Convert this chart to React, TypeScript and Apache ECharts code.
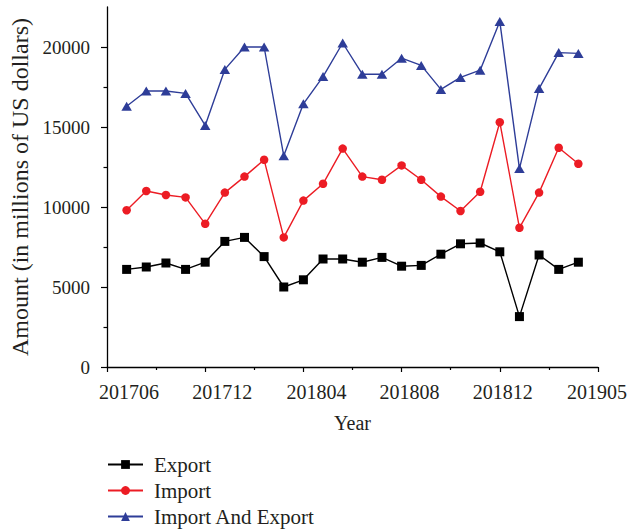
import React, { useEffect, useRef } from 'react';
import * as echarts from 'echarts';

const months = [
  '201706', '201707', '201708', '201709', '201710', '201711', '201712', '201801',
  '201802', '201803', '201804', '201805', '201806', '201807', '201808', '201809',
  '201810', '201811', '201812', '201901', '201902', '201903', '201904', '201905',
];
const exportVals = [6100, 6250, 6500, 6100, 6550, 7850, 8100, 6900, 5000, 5450, 6750, 6750, 6550, 6850, 6300, 6350, 7050, 7700, 7750, 7200, 3150, 7000, 6100, 6550];
const importVals = [9800, 11000, 10750, 10600, 8950, 10900, 11900, 12950, 8100, 10400, 11450, 13650, 11900, 11700, 12600, 11700, 10650, 9750, 10950, 15300, 8700, 10900, 13700, 12700];
const totalVals = [16300, 17250, 17250, 17100, 15100, 18600, 20000, 20000, 13200, 16450, 18150, 20250, 18300, 18300, 19300, 18850, 17350, 18100, 18550, 21600, 12400, 17400, 19650, 19600];
const xTickLabels = ['201706', '201712', '201804', '201808', '201812', '201905'];
const yMajorTicks = [0, 5000, 10000, 15000, 20000];
const yMinorTicks = [2500, 7500, 12500, 17500];
const seriesNames = ['Export', 'Import', 'Import And Export'];

export default function App() {
  const ref = useRef<HTMLDivElement>(null);
  useEffect(() => {
    const chart = echarts.init(ref.current!, null, { renderer: 'svg' });
    const font = '"Liberation Serif", "Times New Roman", serif';
    const txt = '#231f20';
    const offsets = [22, 17, 13, 8, 3, -1];
    const rich: any = {};
    offsets.forEach((d, i) => {
      rich['l' + i] = {
        fontFamily: font,
        fontSize: 20,
        color: txt,
        padding: d >= 0 ? [0, 0, 0, 2 * d] : [0, -2 * d, 0, 0],
      };
    });
    const toPts = (vals: number[]) => vals.map((v, i) => [i + 1, v]);
    const axisLine = { show: true, lineStyle: { color: '#000', width: 1.3 } };
    chart.setOption({
      animation: false,
      backgroundColor: '#fff',
      textStyle: { fontFamily: font, color: txt },
      grid: {
        left: 107,
        right: 31,
        top: 7,
        bottom: 162,
        containLabel: false,
        outerBoundsMode: 'none',
      },
      legend: {
        orient: 'vertical',
        left: 107,
        top: 454,
        height: 75,
        padding: 0,
        itemWidth: 35,
        itemHeight: 11,
        itemGap: 5,
        data: seriesNames,
        textStyle: { fontFamily: font, fontSize: 21, color: txt, padding: [0, 0, 0, 6] },
      },
      xAxis: {
        type: 'value',
        min: 0,
        max: 25,
        interval: 5,
        name: 'Year',
        nameLocation: 'middle',
        nameGap: 46,
        nameTextStyle: { fontFamily: font, fontSize: 20, color: txt },
        axisLine,
        axisTick: { show: true, inside: false, length: 5, lineStyle: { color: '#000', width: 1.2 } },
        minorTick: { show: true, splitNumber: 2, length: 3, lineStyle: { color: '#000', width: 1.2 } },
        splitLine: { show: false },
        minorSplitLine: { show: false },
        axisLabel: {
          margin: 15,
          showMinLabel: true,
          showMaxLabel: true,
          fontFamily: font,
          fontSize: 20,
          color: txt,
          formatter: (v: number) => {
            const i = Math.round(v / 5);
            return `{l${i}|${xTickLabels[i]}}`;
          },
          rich,
        },
      },
      yAxis: [
        {
          type: 'value',
          min: 0,
          max: 22500,
          interval: 5000,
          name: 'Amount (in millions of US dollars)',
          nameLocation: 'middle',
          nameGap: 63,
          nameTextStyle: { fontFamily: font, fontSize: 24, color: txt, padding: [0, 0, 6, 0] },
          axisLine,
          axisTick: { show: true, inside: false, length: 6, customValues: yMajorTicks, lineStyle: { color: '#000', width: 1.2 } },
          splitLine: { show: false },
          axisLabel: {
            margin: 17,
            customValues: yMajorTicks,
            fontFamily: font,
            fontSize: 19,
            color: txt,
            formatter: (v: number) => String(v),
          },
        },
        {
          type: 'value',
          min: 0,
          max: 22500,
          position: 'left',
          axisLine: { show: false },
          axisLabel: { show: false },
          splitLine: { show: false },
          axisTick: { show: true, inside: false, length: 3.5, customValues: yMinorTicks, lineStyle: { color: '#000', width: 1.2 } },
        },
      ],
      series: [
        {
          name: seriesNames[0],
          type: 'line',
          data: toPts(exportVals),
          symbol: 'rect',
          symbolSize: 9,
          itemStyle: { color: '#000' },
          lineStyle: { color: '#000', width: 1.4 },
          z: 3,
        },
        {
          name: seriesNames[1],
          type: 'line',
          data: toPts(importVals),
          symbol: 'circle',
          symbolSize: 8.5,
          itemStyle: { color: '#ec1c24' },
          lineStyle: { color: '#ec1c24', width: 1.4 },
          z: 3,
        },
        {
          name: seriesNames[2],
          type: 'line',
          data: toPts(totalVals),
          symbol: 'triangle',
          symbolSize: [10.5, 9],
          itemStyle: { color: '#2e3d98' },
          lineStyle: { color: '#2e3d98', width: 1.4 },
          z: 3,
        },
      ],
    });
    return () => chart.dispose();
  }, []);
  return <div ref={ref} style={{ position: 'fixed', left: 0, top: 0, width: 629, height: 529 }} />;
}
